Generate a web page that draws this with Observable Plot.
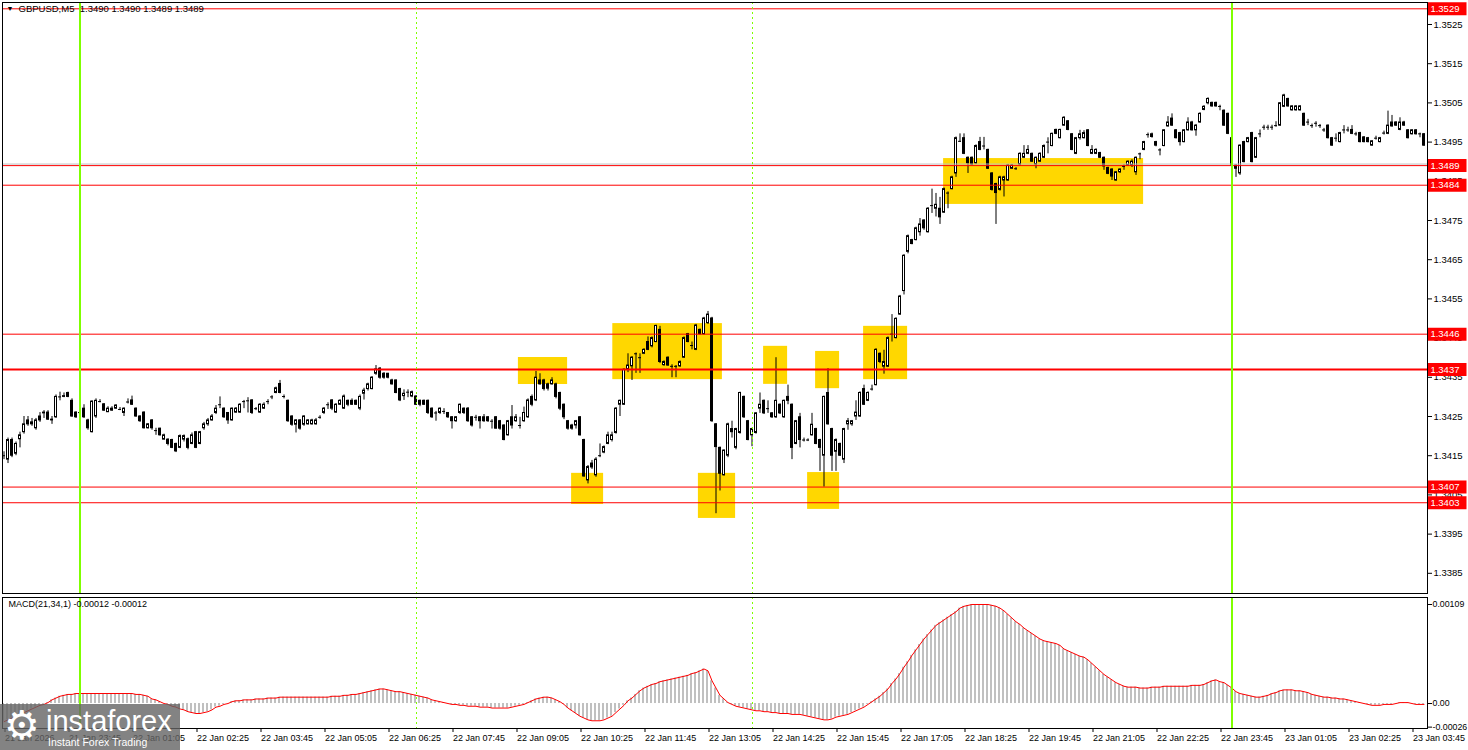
<!DOCTYPE html>
<html><head><meta charset="utf-8">
<script src="https://cdn.jsdelivr.net/npm/d3@7"></script>
<script src="https://cdn.jsdelivr.net/npm/@observablehq/plot@0.6"></script>
<style>
body{margin:0;background:#fff;}
#wrap{position:relative;width:1468px;height:750px;overflow:hidden;font-family:"Liberation Sans",Arial,sans-serif;}
#main{position:absolute;left:0;top:0}
#macd{position:absolute;left:0;top:594px}
#logo{position:absolute;left:0;top:704px;width:180px;height:46px;background:rgba(100,100,100,0.8);color:#fff;}
#logo .gear{position:absolute;left:4px;top:-4px;font-family:"DejaVu Sans";font-size:40px;line-height:50px;}
#logo .big{position:absolute;left:46px;top:2px;font-size:29px;line-height:30px;}
#logo .small{position:absolute;left:48px;top:32px;font-size:10.5px;line-height:12px;}
</style></head><body>
<div id="wrap"><div id="main"></div><div id="macd"></div>
<div id="logo"><span class="gear">⚙</span><span class="big">instaforex</span><span class="small">Instant Forex Trading</span></div></div>
<script>
// ---- DATA (prices in pips above 1.3400, one 5-minute bar per entry) ----
const BASE = 1.34;
const openPips = [
15,14,19,15.5,19.2,21,24,23.5,22,25,
25.8,26,24.2,24.8,30,30,31,29,26,26,
27,24,21,25,28.8,28.1,26.1,26.5,27,26.8,
25.9,28.7,29.1,27,25,26,22,24,21.4,21.9,
19.1,19.1,19,18,17,19.1,19.2,18,21,18,
22,23,24,25.9,28,27,25.9,24,26,26,
28.8,29,29.1,27,26,27,28.8,30,31,33.3,
30.1,29,25,22.9,24,22.9,23,23,23,24.8,
25.9,28,29.1,26,28,27,29,29,29,27,
30.8,32,32,35.9,37.2,35.9,35.9,34.2,34.2,32,
30.2,31.2,30.1,30.1,29,29,29,27,25.9,25.9,
26.3,25.9,24.8,23.8,25.9,27,27,24.8,24.8,24.8,
24.8,24.8,23.8,24.8,23.8,22.7,20.2,24.8,23.8,22.7,
23.8,24.8,30,29.1,34.2,34.2,33.2,33.2,33.2,31,
28,23.8,22.7,22.7,24.8,19,8.7,13,10,15,
15.8,18,19,20.8,28,28,36.9,37.8,41,40,
41,44,42.9,44,47.1,38.1,40,37.8,37.8,37.8,
40,46,43.1,42,47.1,46,48.8,50,23,17,
10,15,21.8,17,20.8,30,23.8,20.2,20.8,27,
29,27,25.8,24.8,28,24.8,30,28,18,24.8,
19,19,20.2,21.8,19,15,31,21.8,16,18,
14,23,23,25,25,32,29,32,33,41,
37.7,37.7,46,45,51,57,67,70,70,72,
75,72,78.8,78,78,77,82,83,87,95.2,
96,91,91,89.6,95,94,93,87,84.3,82.8,
85.2,85.2,88.2,88.2,89.3,91,92,92,89.3,90,
91,95,94,98.1,96,99.2,100.3,97,92,96,
96,98,92,92,92.2,91,88.4,88,85.2,87.3,
88.8,89,89,87.3,92,93,96.9,96.3,95,93,
94,99,101,98,97.3,95,98,100,98,100,
103.2,104.9,105,105,104.1,103,102.2,96,89,87,
95,95,97.3,91,97.1,98.8,98.8,98.8,99.2,99.2,
104,106,103.1,103.1,103.1,102.2,100.1,99.2,99.8,99.2,
98.1,99.2,96,96,95,98.1,98.1,98.1,97.1,97.3,
96.2,96,94.1,96,95,97.3,97.1,100,100,98.1,
100,98,97,98,97.1,97];
const highPips = [
16,19.5,19.5,18.5,21,25,25,24.5,24.5,26,
26.5,26.5,25,30.5,31.2,31,31.2,29.5,26.2,26.5,
28,24.3,29,29.5,29.3,28.3,27.5,27.5,28,27.3,
27.2,29.5,30.2,27.2,25.2,26.2,23.2,24.2,22,22,
20.5,19.3,19.2,18.2,20.3,20.3,19.5,20.8,21.2,21.2,
23.5,24.5,25.5,27.8,30,27.2,26,27.2,27.3,28.3,
29.1,29.8,29.3,27.3,28.3,28.5,29.3,30.3,32.5,34.2,
30.5,29.2,25.2,24.2,24.2,25.2,24.2,24.3,24.5,25.2,
27.3,28.5,29.3,28.3,29.3,30.5,29.2,29.5,29.2,30.5,
32.2,33.5,35.2,38,37.5,36.2,36,34.5,34.3,32.2,
31.8,31.8,31.5,30.3,29.2,29.2,29.2,27.2,26.3,27.2,
27,26,25,25,28.2,27.2,27.3,25,25.3,25,
25.5,25,24.2,25,24,22.9,24,27.8,25.5,24.8,
27.4,29.5,30.5,36.5,35.9,34.5,33.5,34.9,33.5,31.2,
28.2,24,23,24,25,19.2,12.5,13.8,14.5,18,
17.5,21,21,27.3,29.2,37.2,41,40.3,41.2,41,
42.3,45.3,45.3,48.3,48,39.2,40.2,38.2,38,39.2,
45.3,46.2,44,48.5,47.3,50.3,51.8,50.3,23.2,17.2,
16.5,23.3,23.8,22,31.2,30.2,24,22,26,31,
29.2,29,26,40,28.2,29.2,33,28.2,24,25.8,
19.5,19.3,25.8,22,19.2,30.2,37.2,22,19.3,18.2,
22,24.5,24,29,31.3,33,31.3,33,42.3,41.2,
41.9,45.3,51,50.2,55.9,66.3,71.3,70.2,73.3,75.5,
75.2,78.3,83,81.9,80.9,83.3,82.3,86.3,96.3,97.1,
97.1,91.2,91.2,94.3,96.2,96.2,93.2,87.2,84.5,86.3,
86.3,89.3,89.3,88.5,92.3,94.1,94.1,92.2,91.2,92.3,
94.3,96.1,97.3,98.3,98.3,101.5,100.5,97.2,96.2,98,
97.9,98.2,94.1,93.3,92.4,91.2,88.6,88.2,87.5,88.2,
89.2,90.2,90.5,91.2,92.2,95.2,97.3,97.3,95.2,93.3,
98.2,101.5,102.2,98.2,97.5,98.2,101.2,100.3,99.5,102.5,
104.3,106.3,105.2,105.2,104.4,103.2,102.4,96.2,89.2,94.3,
95.2,96.2,97.5,96.2,98.1,99.3,99.3,99.3,100.2,105.1,
107.2,106.2,104.3,104.3,104.3,102.4,100.8,99.6,100.2,99.5,
98.5,99.4,96.2,97.1,97.5,99.2,98.8,99.2,97.5,97.5,
96.4,96.2,95.4,96.5,96.2,97.8,102.9,101.8,100.2,101.2,
100.3,98.2,98.2,98.2,97.3,97.2];
const lowPips = [
14,13,14.5,15,17,20.5,22.5,22.5,21.5,23.5,
24.5,24,23,24.5,29,29.8,29.8,24.8,24.5,25.5,
24.5,21.5,20.8,24.5,28.5,26.3,26,26.3,26.8,26.5,
25,28.2,27.8,24.8,23.5,21.8,21.8,21.5,20.2,20,
19,17.5,16.8,15.8,16.8,18.5,16.5,17.8,16.8,17.8,
21.5,22.5,23.8,25.5,27,24.5,23,23.8,25.8,25.8,
27,25.9,25.5,26.5,25.8,26.8,28,29.3,30.8,30.8,
29.5,23.5,22.5,20.8,21.5,22.5,22.8,22.8,22.8,24.3,
25.5,26.8,26.5,25.8,27.8,26.8,27.5,27.8,27.8,26.5,
29.2,31.5,31.8,35.5,34.5,34.5,34.6,33,30.8,28.8,
29.1,29.8,29.8,27.8,27.5,27.8,25.5,24.5,23.8,25.5,
25.5,24.5,21.8,23.5,25.5,25.5,23.5,22.3,23.8,21.8,
23.5,23.5,21.8,21.8,21.5,18.8,20,21.8,23.5,21.8,
23.5,24.5,27.5,28.8,33,31.5,31.5,33,29.5,26.5,
24.2,21.5,21.5,21.8,20,9.5,7.8,11.5,9.5,14.5,
15.5,17.8,18.5,20.5,25,27.8,36.2,34.2,36,36,
40.8,41.8,42.5,43.8,38.5,37.8,37.8,34.9,34.9,37.5,
39.8,43.8,42,41.8,45.8,45.8,48.5,23.5,0.2,6,
9.8,14.5,19.5,16.5,20.5,24.5,18.8,17.3,20.5,25.8,
25.5,25.8,24.5,24.5,25.5,24.5,28,14,17.8,17,
18.5,18.6,20,17.8,11,7,22.8,11,11,14.8,
13,21.5,22.5,24,24.8,27.8,28.8,31.5,32.8,38.5,
35.8,37.5,44,44.8,50.8,56,66.5,68.8,69.8,71,
72.5,71.8,76.8,75.9,74,76.8,78,82.8,86,94.9,
91.8,87,89,89.3,92.8,93,88,82.5,74,82.5,
81,85,88,87.8,88.8,90.8,91.8,89.8,88.2,89.8,
90.8,92,93.8,96.9,95.8,99,97.9,92.8,91.8,95.5,
95.8,93.8,91.8,91.8,90.8,87.8,86.7,85.2,85,87,
87.8,88.8,88.5,86.5,90.5,92.8,96,96,93.8,91.5,
93.8,98.8,99,95.8,94,94.8,97.8,97.8,96.5,99.8,
103,104.5,103.9,103.9,103,99,96.9,88.8,86,86.5,
89.7,94.8,89.7,90.8,96.1,98,98,98,98.8,99,
103.8,103.9,102.9,102.9,102.9,99,99.2,98.5,98.8,98.5,
97.5,95.8,93.9,95,94.8,97.1,97.5,96.9,96.5,94.8,
94.8,94.8,93.9,95.5,94.8,96.8,96.9,98.8,99,97.9,
99,95.8,96.8,96.8,96.1,93.9];
const closePips = [
15,19,15,18,20.2,23,23,23,24,24,
26,24.2,24,30,30,30.2,30,25,24.8,26,
24.8,22,28.8,29,28.8,26.5,27,27,27.8,26.8,
27,28.7,28,25,23.8,22,23,22,21.4,20.2,
20.2,18,17,16.1,20,20,17,20.2,17,21,
23,24,25,27,28,24.8,24,27,27,28,
28.8,29,25.9,27,28,28,28.8,30,32.2,31,
30.1,23.8,22.9,24,21.9,25,24,24,24,24.8,
27,28,27,28,29,30.1,28,28,28,30,
31.6,33.2,34.9,37,34.9,34.9,34.9,33.2,31,29.1,
30.8,31.2,31.2,28,28,28,25.9,24.8,25.9,27,
26.3,24.8,23.8,24.8,28,25.9,23.8,22.7,24.8,23.8,
23.8,23.8,23.8,21.9,21.9,19,23.8,22.7,24.8,22.7,
25.9,29.1,28,34.9,33.2,32,32.1,34.2,30,27,
24.8,21.9,21.9,23.8,20.2,9.7,12.1,12,14,15,
17.2,20.2,20.2,27,29,36.9,38,40,41,40,
42,42,45,48.1,38.9,38.9,38,37.8,37.8,38.9,
45,44,43.1,48.2,46,50,51,23.8,17.2,10.4,
16.3,23,21,21.8,31,24.8,19,21.8,25.8,28,
25.8,27,24.8,29,25.8,29,29,17,23.8,19,
19,19,22.9,18,17,30,23,15,19,15,
21.8,23.8,23.8,26,31,28,31,32,42,38.9,
38.9,45,46,49.9,55.6,66,71,69,73,74,
73,78,78.8,79,75.8,83,82,86,96,95.2,
92,89.6,89.3,94,93,94,88.2,82.8,82,86,
86,89,89,88.2,92,92,93,90,91,92,
94,95,97.1,97.1,98.1,101.2,98.1,93,96,97,
97.3,94,93,93,91,88.8,86.9,86.2,87.3,88,
88.8,90,90,91,92,95,96.9,97,94.1,93,
98,100,99.2,96,95,98,100,98,99.2,102.2,
104,106,104.1,104.1,104.1,99.2,97.1,89,88.2,94.1,
89.9,96,89.9,96,97.1,98.8,98.8,98.8,99.2,104.9,
106.9,104.1,104.1,104.1,104.1,99.2,100.1,99.2,99.8,99.2,
98.1,96,94.1,96,97.3,98.1,98.1,97.1,97.1,95,
95,95,95.2,96,96,97.3,99.2,99,99.2,100,
99.2,96,98,97,97.1,94.1];
// MACD(21,34,1) main line per bar, in units of 0.00001
const macdE5 = [
-20,-18,-16,-14,-12,-10,-8,-6,-4,-2,
-1,1,4,6,8,9,10,10,11,11,
11,11,11,11,11,11,11,11,11,11,
11,11,11,10,10,9,8,5,4,2,
0,-1,-3,-4,-6,-7,-9,-10,-11,-11,
-10,-9,-7,-4,-3,-1,0,2,3,3,
4,4,4,5,5,5,6,6,6,7,
7,7,7,7,7,7,7,7,7,7,
7,7,8,8,8,9,9,10,10,11,
12,13,14,15,16,16,15,14,13,13,
12,11,10,9,8,7,6,4,3,2,
1,0,-1,-1,-2,-2,-3,-3,-3,-4,
-4,-4,-5,-5,-5,-5,-5,-4,-3,-2,
-1,1,3,5,6,7,7,6,4,2,
-1,-5,-8,-11,-14,-16,-18,-19,-19,-19,
-18,-16,-14,-10,-6,-2,3,6,10,14,
17,19,21,22,24,25,26,27,28,29,
30,31,33,34,36,38,36,25,17,9,
5,1,-1,-3,-4,-5,-6,-7,-8,-8,
-9,-9,-10,-10,-11,-11,-11,-12,-12,-12,
-13,-14,-15,-16,-17,-18,-18,-17,-15,-14,
-13,-12,-10,-8,-6,-4,-1,2,5,8,
12,16,22,27,33,40,46,53,59,65,
71,76,81,86,89,92,95,98,101,105,
107,108,109,109,109,109,109,108,107,105,
102,98,94,90,87,83,80,77,74,71,
69,68,67,66,64,60,58,56,54,52,
51,48,44,40,36,32,29,26,23,21,
19,18,18,18,17,17,17,18,18,18,
19,19,19,19,19,19,19,20,20,20,
21,23,25,26,24,23,20,17,13,11,
10,9,8,7,7,8,9,11,12,14,
15,15,15,14,14,13,12,10,9,8,
7,7,6,6,5,5,4,3,2,1,
0,-1,-2,-2,-2,-1,-1,-1,0,1,
1,1,0,-1,-1,-1];
// horizontal levels
const levelPrices = [1.3529, 1.3489, 1.3484, 1.3446, 1.3437, 1.3407, 1.3403];
const levelWidths = [1, 1, 1, 1, 2, 1, 1];
const bidPrice = 1.34894;
// yellow zones (bar index range, pips range)
const boxStart = [128.6, 152.2, 141.9, 173.6, 189.9, 202.9, 200.9, 214.9, 234.9];
const boxEnd   = [140.9, 179.6, 149.9, 182.9, 195.9, 208.9, 208.9, 225.9, 284.9];
const boxTop   = [40.05, 48.7, 10.5, 10.5, 42.9, 41.6, 10.7, 48, 90.8];
const boxBottom= [33.16, 34.4, 2.55, -1.0, 33.2, 32.1, 1.3, 34.4, 79.1];
// vertical markers (bar index)
const daySeparators = [19, 307];
const dashedMarkers = [103, 187];
// axis ticks
const priceTicks = [1.3385,1.3395,1.3405,1.3415,1.3425,1.3435,1.3445,1.3455,1.3465,1.3475,1.3485,1.3495,1.3505,1.3515,1.3525];
const timeTickBars = [0,16,32,48,64,80,96,112,128,144,160,176,192,208,224,240,256,272,288,304,320,336,352];
const timeTickLabels = ["21 Jan 2026","21 Jan 23:45","22 Jan 01:05","22 Jan 02:25","22 Jan 03:45","22 Jan 05:05","22 Jan 06:25","22 Jan 07:45","22 Jan 09:05","22 Jan 10:25","22 Jan 11:45","22 Jan 13:05","22 Jan 14:25","22 Jan 15:45","22 Jan 17:05","22 Jan 18:25","22 Jan 19:45","22 Jan 21:05","22 Jan 22:25","22 Jan 23:45","23 Jan 01:05","23 Jan 02:25","23 Jan 03:45"];
const macdTicks = [0.00109, 0, -0.00026];
const macdTickLabels = ["0.00109", "0.00", "-0.00026"];
const titleText = "GBPUSD,M5  1.3490 1.3490 1.3489 1.3489";
const macdTitle = "MACD(21,34,1) -0.00012 -0.00012";

// ---- BUILD ----
const N = Math.min(openPips.length, highPips.length, lowPips.length, closePips.length);
const toP = v => BASE + v / 1e4;
const bars = d3.range(N).map(i => ({i, o: toP(openPips[i]), h: toP(highPips[i]), l: toP(lowPips[i]), c: toP(closePips[i])}));
const boxes = boxStart.map((s, k) => ({x1: s, x2: boxEnd[k], y1: toP(boxTop[k]), y2: toP(boxBottom[k])}));
const levels = levelPrices.map((p, k) => ({p, w: levelWidths[k]}));
const macd = d3.range(macdE5.length).map(i => ({i, v: macdE5[i] / 1e5}));
const xDomain = [-0.375, 355.875];
const font = {fontFamily: "'Liberation Sans', Arial, sans-serif", fontSize: "9px", color: "black", background: "white", overflow: "visible"};
const GREEN = "#7fff00";

const mainPlot = Plot.plot({
  width: 1468, height: 596,
  marginLeft: 2, marginRight: 41, marginTop: 2, marginBottom: 3,
  x: {domain: xDomain, axis: null},
  y: {domain: [1.337985, 1.353061], axis: null},
  style: font,
  marks: [
    Plot.rect(boxes, {x1: "x1", x2: "x2", y1: "y1", y2: "y2", fill: "#FFD700"}),
    Plot.ruleX(bars, {x: "i", y1: "l", y2: "h", stroke: "black"}),
    Plot.rect(bars, {x1: d => d.i - 0.25, x2: d => d.i + 0.25, y1: "o", y2: "c",
      fill: d => d.c >= d.o ? "white" : "black", stroke: "black", strokeWidth: 1}),
    Plot.ruleY(bars.filter(d => Math.abs(d.o - d.c) < 1e-7), {y: "c", x1: d => d.i - 0.375, x2: d => d.i + 0.375, stroke: "black"}),
    Plot.ruleY([bidPrice], {stroke: "#c0c0c0"}),
    Plot.ruleY(levels, {y: "p", stroke: "#ff0000", strokeWidth: "w"}),
    Plot.ruleX(dashedMarkers, {stroke: GREEN, strokeDasharray: "2,3", shapeRendering: "crispEdges"}),
    Plot.ruleX(daySeparators, {stroke: GREEN, strokeWidth: 2, shapeRendering: "crispEdges"}),
    Plot.frame({stroke: "black", shapeRendering: "crispEdges"}),
    Plot.axisY({anchor: "right", ticks: priceTicks, tickFormat: d => d.toFixed(4), tickSize: 4, tickPadding: 2, label: null, fontSize: 9.5}),
    Plot.ruleY(levels, {y: "p", x1: 356.125, x2: 365.75, stroke: "red", strokeWidth: 13}),
    Plot.text(levels, {x: 356.6, y: "p", text: d => d.p.toFixed(4), fill: "white", textAnchor: "start", fontSize: 9.5}),
    Plot.text(["▼"], {frameAnchor: "top-left", dx: 4, dy: 4, fontSize: 7, lineAnchor: "top"}),
    Plot.text([titleText], {frameAnchor: "top-left", text: d => d, dx: 16, dy: 3, textAnchor: "start", lineAnchor: "top", fontSize: 9.5})
  ]
});
document.getElementById("main").appendChild(mainPlot);

const macdPlot = Plot.plot({
  width: 1468, height: 156,
  marginLeft: 2, marginRight: 41, marginTop: 3, marginBottom: 22,
  x: {domain: xDomain, axis: null},
  y: {domain: [-0.000275, 0.001167], axis: null},
  style: font,
  marks: [
    Plot.rect(macd, {x1: d => d.i - 0.375, x2: d => d.i + 0.125, y1: 0, y2: "v", fill: "#c0c0c0"}),
    Plot.line(macd, {x: "i", y: "v", stroke: "red", strokeWidth: 1}),
    Plot.ruleX(dashedMarkers, {stroke: GREEN, strokeDasharray: "2,3", shapeRendering: "crispEdges"}),
    Plot.ruleX(daySeparators, {stroke: GREEN, strokeWidth: 2, shapeRendering: "crispEdges"}),
    Plot.frame({stroke: "black", shapeRendering: "crispEdges"}),
    Plot.axisY({anchor: "right", ticks: macdTicks, tickFormat: d => macdTickLabels[macdTicks.indexOf(d)], tickSize: 4, tickPadding: 1, label: null, fontSize: 8.8}),
    Plot.axisX({anchor: "bottom", ticks: timeTickBars, tickFormat: d => timeTickLabels[timeTickBars.indexOf(d)], tickSize: 4, tickPadding: 2, textAnchor: "start", dx: 1, label: null}),
    Plot.text([macdTitle], {frameAnchor: "top-left", text: d => d, dx: 6, dy: 3, textAnchor: "start", lineAnchor: "top"})
  ]
});
document.getElementById("macd").appendChild(macdPlot);
</script>
</body></html>
